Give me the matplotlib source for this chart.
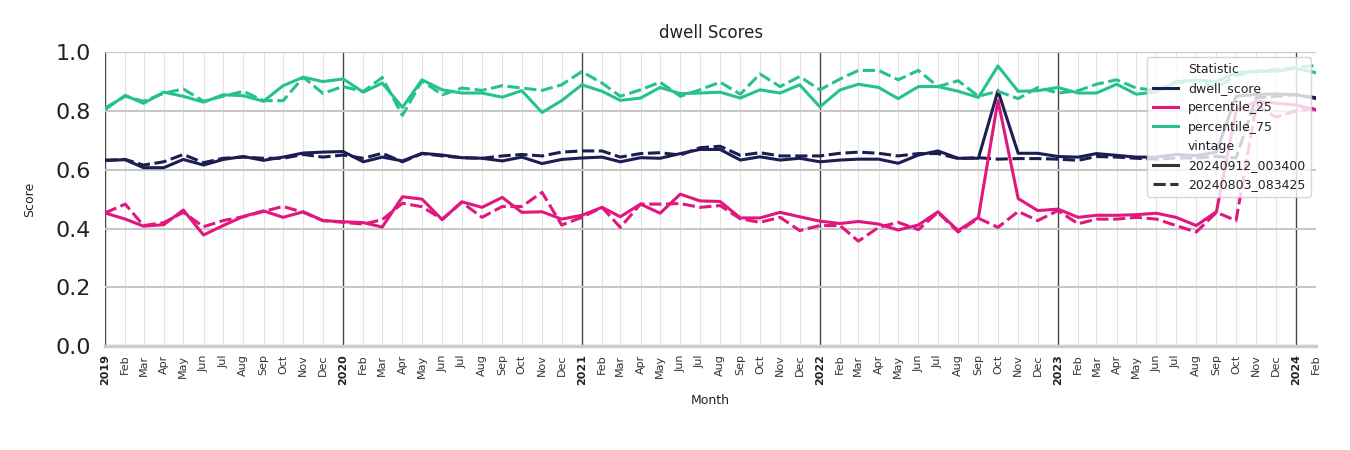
import matplotlib
matplotlib.use("Agg")
import matplotlib.pyplot as plt
import matplotlib.dates as mdates
from matplotlib.lines import Line2D
import pandas as pd

months = pd.date_range("2019-01-01", "2024-02-01", freq="MS")

dwell_new = [0.632, 0.634, 0.607, 0.607, 0.635, 0.616, 0.635, 0.645, 0.632, 0.643, 0.657, 0.660,
             0.662, 0.627, 0.643, 0.630, 0.656, 0.650, 0.641, 0.639, 0.630, 0.643, 0.621, 0.635,
             0.640, 0.643, 0.627, 0.641, 0.639, 0.655, 0.669, 0.669, 0.633, 0.644, 0.633, 0.639,
             0.627, 0.633, 0.636, 0.636, 0.622, 0.650, 0.664, 0.639, 0.639, 0.869, 0.656, 0.656,
             0.645, 0.643, 0.655, 0.649, 0.643, 0.643, 0.652, 0.648, 0.660, 0.850, 0.856, 0.858,
             0.856, 0.842]
dwell_old = [0.632, 0.635, 0.616, 0.627, 0.652, 0.624, 0.639, 0.643, 0.639, 0.639, 0.652, 0.643,
             0.650, 0.639, 0.656, 0.627, 0.655, 0.647, 0.641, 0.639, 0.647, 0.652, 0.647, 0.660,
             0.664, 0.664, 0.643, 0.655, 0.658, 0.650, 0.675, 0.680, 0.649, 0.658, 0.647, 0.647,
             0.647, 0.656, 0.660, 0.656, 0.647, 0.655, 0.655, 0.638, 0.641, 0.636, 0.638, 0.638,
             0.636, 0.632, 0.645, 0.643, 0.639, 0.636, 0.640, 0.640, 0.645, 0.640, 0.845, 0.850,
             0.855, 0.845]
p25_new = [0.453, 0.432, 0.408, 0.413, 0.463, 0.378, 0.410, 0.441, 0.460, 0.438, 0.457, 0.427,
           0.423, 0.420, 0.405, 0.508, 0.500, 0.430, 0.491, 0.472, 0.506, 0.455, 0.457, 0.432,
           0.445, 0.472, 0.440, 0.483, 0.452, 0.517, 0.494, 0.492, 0.436, 0.436, 0.455, 0.440,
           0.425, 0.417, 0.424, 0.415, 0.395, 0.412, 0.457, 0.393, 0.438, 0.836, 0.502, 0.461,
           0.466, 0.438, 0.445, 0.445, 0.447, 0.452, 0.438, 0.410, 0.457, 0.800, 0.833, 0.827,
           0.820, 0.804]
p25_old = [0.453, 0.483, 0.410, 0.420, 0.455, 0.406, 0.427, 0.440, 0.458, 0.475, 0.455, 0.427,
           0.421, 0.415, 0.430, 0.486, 0.474, 0.432, 0.489, 0.438, 0.475, 0.475, 0.523, 0.412,
           0.438, 0.472, 0.404, 0.483, 0.483, 0.485, 0.472, 0.478, 0.433, 0.421, 0.438, 0.393,
           0.410, 0.410, 0.357, 0.404, 0.421, 0.396, 0.455, 0.388, 0.435, 0.404, 0.458, 0.427,
           0.461, 0.416, 0.432, 0.432, 0.438, 0.432, 0.410, 0.388, 0.455, 0.427, 0.821, 0.779,
           0.800, 0.810]
p75_new = [0.805, 0.853, 0.826, 0.864, 0.850, 0.830, 0.855, 0.852, 0.833, 0.886, 0.915, 0.900,
           0.909, 0.864, 0.895, 0.812, 0.906, 0.872, 0.861, 0.861, 0.847, 0.869, 0.795, 0.835,
           0.889, 0.867, 0.836, 0.844, 0.880, 0.859, 0.861, 0.864, 0.844, 0.872, 0.861, 0.889,
           0.814, 0.872, 0.891, 0.880, 0.842, 0.883, 0.883, 0.867, 0.846, 0.953, 0.867, 0.869,
           0.880, 0.861, 0.861, 0.891, 0.857, 0.865, 0.900, 0.905, 0.900, 0.930, 0.935, 0.935,
           0.945, 0.930]
p75_old = [0.810, 0.850, 0.833, 0.860, 0.875, 0.833, 0.850, 0.867, 0.835, 0.835, 0.915, 0.860,
           0.883, 0.866, 0.914, 0.785, 0.903, 0.855, 0.878, 0.870, 0.886, 0.878, 0.870, 0.889,
           0.934, 0.895, 0.850, 0.872, 0.898, 0.850, 0.872, 0.898, 0.857, 0.926, 0.883, 0.917,
           0.872, 0.909, 0.938, 0.938, 0.906, 0.938, 0.883, 0.903, 0.850, 0.867, 0.842, 0.880,
           0.861, 0.869, 0.891, 0.906, 0.878, 0.870, 0.895, 0.905, 0.880, 0.920, 0.935, 0.940,
           0.948, 0.955]

stat_names = ["dwell_score", "percentile_25", "percentile_75"]
vintages = ["20240912_003400", "20240803_083425"]
colors = {"dwell_score": "#1c1d52", "percentile_25": "#e0177f", "percentile_75": "#26c28c"}
series = {
    ("dwell_score", vintages[0]): dwell_new,
    ("dwell_score", vintages[1]): dwell_old,
    ("percentile_25", vintages[0]): p25_new,
    ("percentile_25", vintages[1]): p25_old,
    ("percentile_75", vintages[0]): p75_new,
    ("percentile_75", vintages[1]): p75_old,
}
styles = {vintages[0]: "-", vintages[1]: (0, (4, 1.5))}

fig = plt.figure(figsize=(13.5, 4.5), dpi=100)
ax = fig.add_axes([0.0778, 0.231, 0.8972, 0.653])

for (stat, vint), vals in series.items():
    ax.plot(months, vals, color=colors[stat], linestyle=styles[vint], lw=2.2, zorder=3)

ax.set_ylim(0, 1)
ax.set_xlim(months[0], months[-1])

ax.xaxis.set_major_locator(mdates.YearLocator())
ax.xaxis.set_major_formatter(mdates.DateFormatter("%Y"))
ax.xaxis.set_minor_locator(mdates.MonthLocator(bymonth=range(2, 13)))
ax.xaxis.set_minor_formatter(mdates.DateFormatter("%b"))
ax.tick_params(axis="x", which="major", length=0, pad=6, labelsize=8, labelrotation=90)
ax.tick_params(axis="x", which="minor", length=0, pad=6, labelsize=8, labelrotation=90, labelcolor="#333333")
for lbl in ax.get_xticklabels(which="major"):
    lbl.set_fontweight("bold")
    lbl.set_color("#222222")
ax.set_yticks([0.0, 0.2, 0.4, 0.6, 0.8, 1.0])
ax.set_yticklabels(["0.0", "0.2", "0.4", "0.6", "0.8", "1.0"])
ax.tick_params(axis="y", length=0, labelsize=16, labelcolor="#222222", pad=10)

ax.grid(axis="y", which="major", color="#c8c8c8", lw=1.5, zorder=0)
ax.grid(axis="x", which="minor", color="#e2e2e2", lw=0.8, zorder=0)
ax.grid(axis="x", which="major", color="#444444", lw=1.0, zorder=1)

for s in ["top", "right", "left"]:
    ax.spines[s].set_visible(False)
ax.spines["bottom"].set_color("#cccccc")
ax.spines["bottom"].set_linewidth(2.5)

ax.set_title("dwell Scores", fontsize=12, color="#222222", pad=10)
ax.set_ylabel("Score", fontsize=9, color="#222222", labelpad=14)
ax.set_xlabel("Month", fontsize=9, color="#222222", labelpad=6)

blank = Line2D([], [], color="none")
handles = [blank] + [Line2D([], [], color=colors[s], lw=2.2) for s in stat_names] + [blank] + \
          [Line2D([], [], color="#333333", lw=2.2, linestyle=styles[v]) for v in vintages]
labels = ["Statistic"] + stat_names + ["vintage"] + vintages
leg = ax.legend(handles, labels, loc="upper right", fontsize=9, framealpha=0.8,
                edgecolor="#cccccc", borderpad=0.45, labelspacing=0.5, handlelength=2.0,
                borderaxespad=0.0, bbox_to_anchor=(0.9955, 0.983))
for t in leg.get_texts():
    t.set_color("#222222")

fig.savefig("out.png", dpi=100)
